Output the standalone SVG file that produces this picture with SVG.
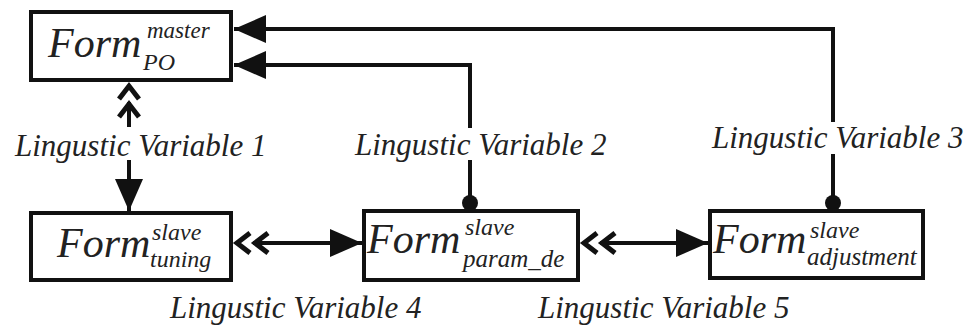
<svg xmlns="http://www.w3.org/2000/svg" width="973" height="329" viewBox="0 0 973 329">
<defs>
<marker id="arr" markerUnits="userSpaceOnUse" markerWidth="34" markerHeight="30" refX="32" refY="14" orient="auto" overflow="visible">
<path d="M0,0 L32,14 L0,28 Z" fill="#111"/>
</marker>
<marker id="dbl" markerUnits="userSpaceOnUse" markerWidth="40" markerHeight="30" refX="0" refY="0" orient="auto" overflow="visible">
<path d="M-3,-10 L-16,0 L-3,10 M15,-10 L2,0 L15,10" fill="none" stroke="#111" stroke-width="5"/>
</marker>
<marker id="dot" markerUnits="userSpaceOnUse" markerWidth="20" markerHeight="20" refX="0" refY="0" orient="auto" overflow="visible">
<circle cx="0" cy="0" r="8" fill="#111"/>
</marker>
</defs>
<g id="connectors" fill="none" stroke="#111" stroke-width="4">
<path d="M833,203 V154" marker-start="url(#dot)"/>
<path d="M833,122 V29 H234" marker-end="url(#arr)"/>
<path d="M470,203 V160" marker-start="url(#dot)"/>
<path d="M470,128 V65 H234" marker-end="url(#arr)"/>
<path d="M129,102 V127" marker-start="url(#dbl)"/>
<path d="M129,160 V211" marker-end="url(#arr)"/>
<path d="M253,243 H362" marker-start="url(#dbl)" marker-end="url(#arr)"/>
<path d="M600,243 H708" marker-start="url(#dbl)" marker-end="url(#arr)"/>
</g>
<g id="labels">
<text font-family="Liberation Serif" font-style="italic" fill="#222" font-size="31" x="15" y="156">Lingustic Variable 1</text>
<text font-family="Liberation Serif" font-style="italic" fill="#222" font-size="31" x="355" y="155">Lingustic Variable 2</text>
<text font-family="Liberation Serif" font-style="italic" fill="#222" font-size="31" x="712" y="148">Lingustic Variable 3</text>
<text font-family="Liberation Serif" font-style="italic" fill="#222" font-size="31" x="170" y="318">Lingustic Variable 4</text>
<text font-family="Liberation Serif" font-style="italic" fill="#222" font-size="31" x="538" y="318">Lingustic Variable 5</text>
</g>
<g id="master">
<rect x="31" y="12" width="200" height="68" fill="#fff" stroke="#111" stroke-width="4"/>
<text font-family="Liberation Serif" font-style="italic" fill="#222" font-size="42" x="48" y="57">Form</text>
<text font-family="Liberation Serif" font-style="italic" fill="#222" font-size="23" x="147" y="38">master</text>
<text font-family="Liberation Serif" font-style="italic" fill="#222" font-size="24" x="143" y="70">PO</text>
</g>
<g id="tuning">
<rect x="31" y="213" width="200" height="67" fill="#fff" stroke="#111" stroke-width="4"/>
<text font-family="Liberation Serif" font-style="italic" fill="#222" font-size="42" x="57" y="257">Form</text>
<text font-family="Liberation Serif" font-style="italic" fill="#222" font-size="24" x="152" y="240">slave</text>
<text font-family="Liberation Serif" font-style="italic" fill="#222" font-size="24" x="150" y="267">tuning</text>
</g>
<g id="param_de">
<rect x="364" y="211" width="214" height="69" fill="#fff" stroke="#111" stroke-width="4"/>
<text font-family="Liberation Serif" font-style="italic" fill="#222" font-size="42" x="367" y="253">Form</text>
<text font-family="Liberation Serif" font-style="italic" fill="#222" font-size="24" x="465" y="235">slave</text>
<text font-family="Liberation Serif" font-style="italic" fill="#222" font-size="25" x="463" y="267">param_de</text>
</g>
<g id="adjustment">
<rect x="710" y="211" width="213" height="67" fill="#fff" stroke="#111" stroke-width="4"/>
<text font-family="Liberation Serif" font-style="italic" fill="#222" font-size="42" x="713" y="253">Form</text>
<text font-family="Liberation Serif" font-style="italic" fill="#222" font-size="24" x="810" y="238">slave</text>
<text font-family="Liberation Serif" font-style="italic" fill="#222" font-size="25" x="807" y="265">adjustment</text>
</g>
</svg>
